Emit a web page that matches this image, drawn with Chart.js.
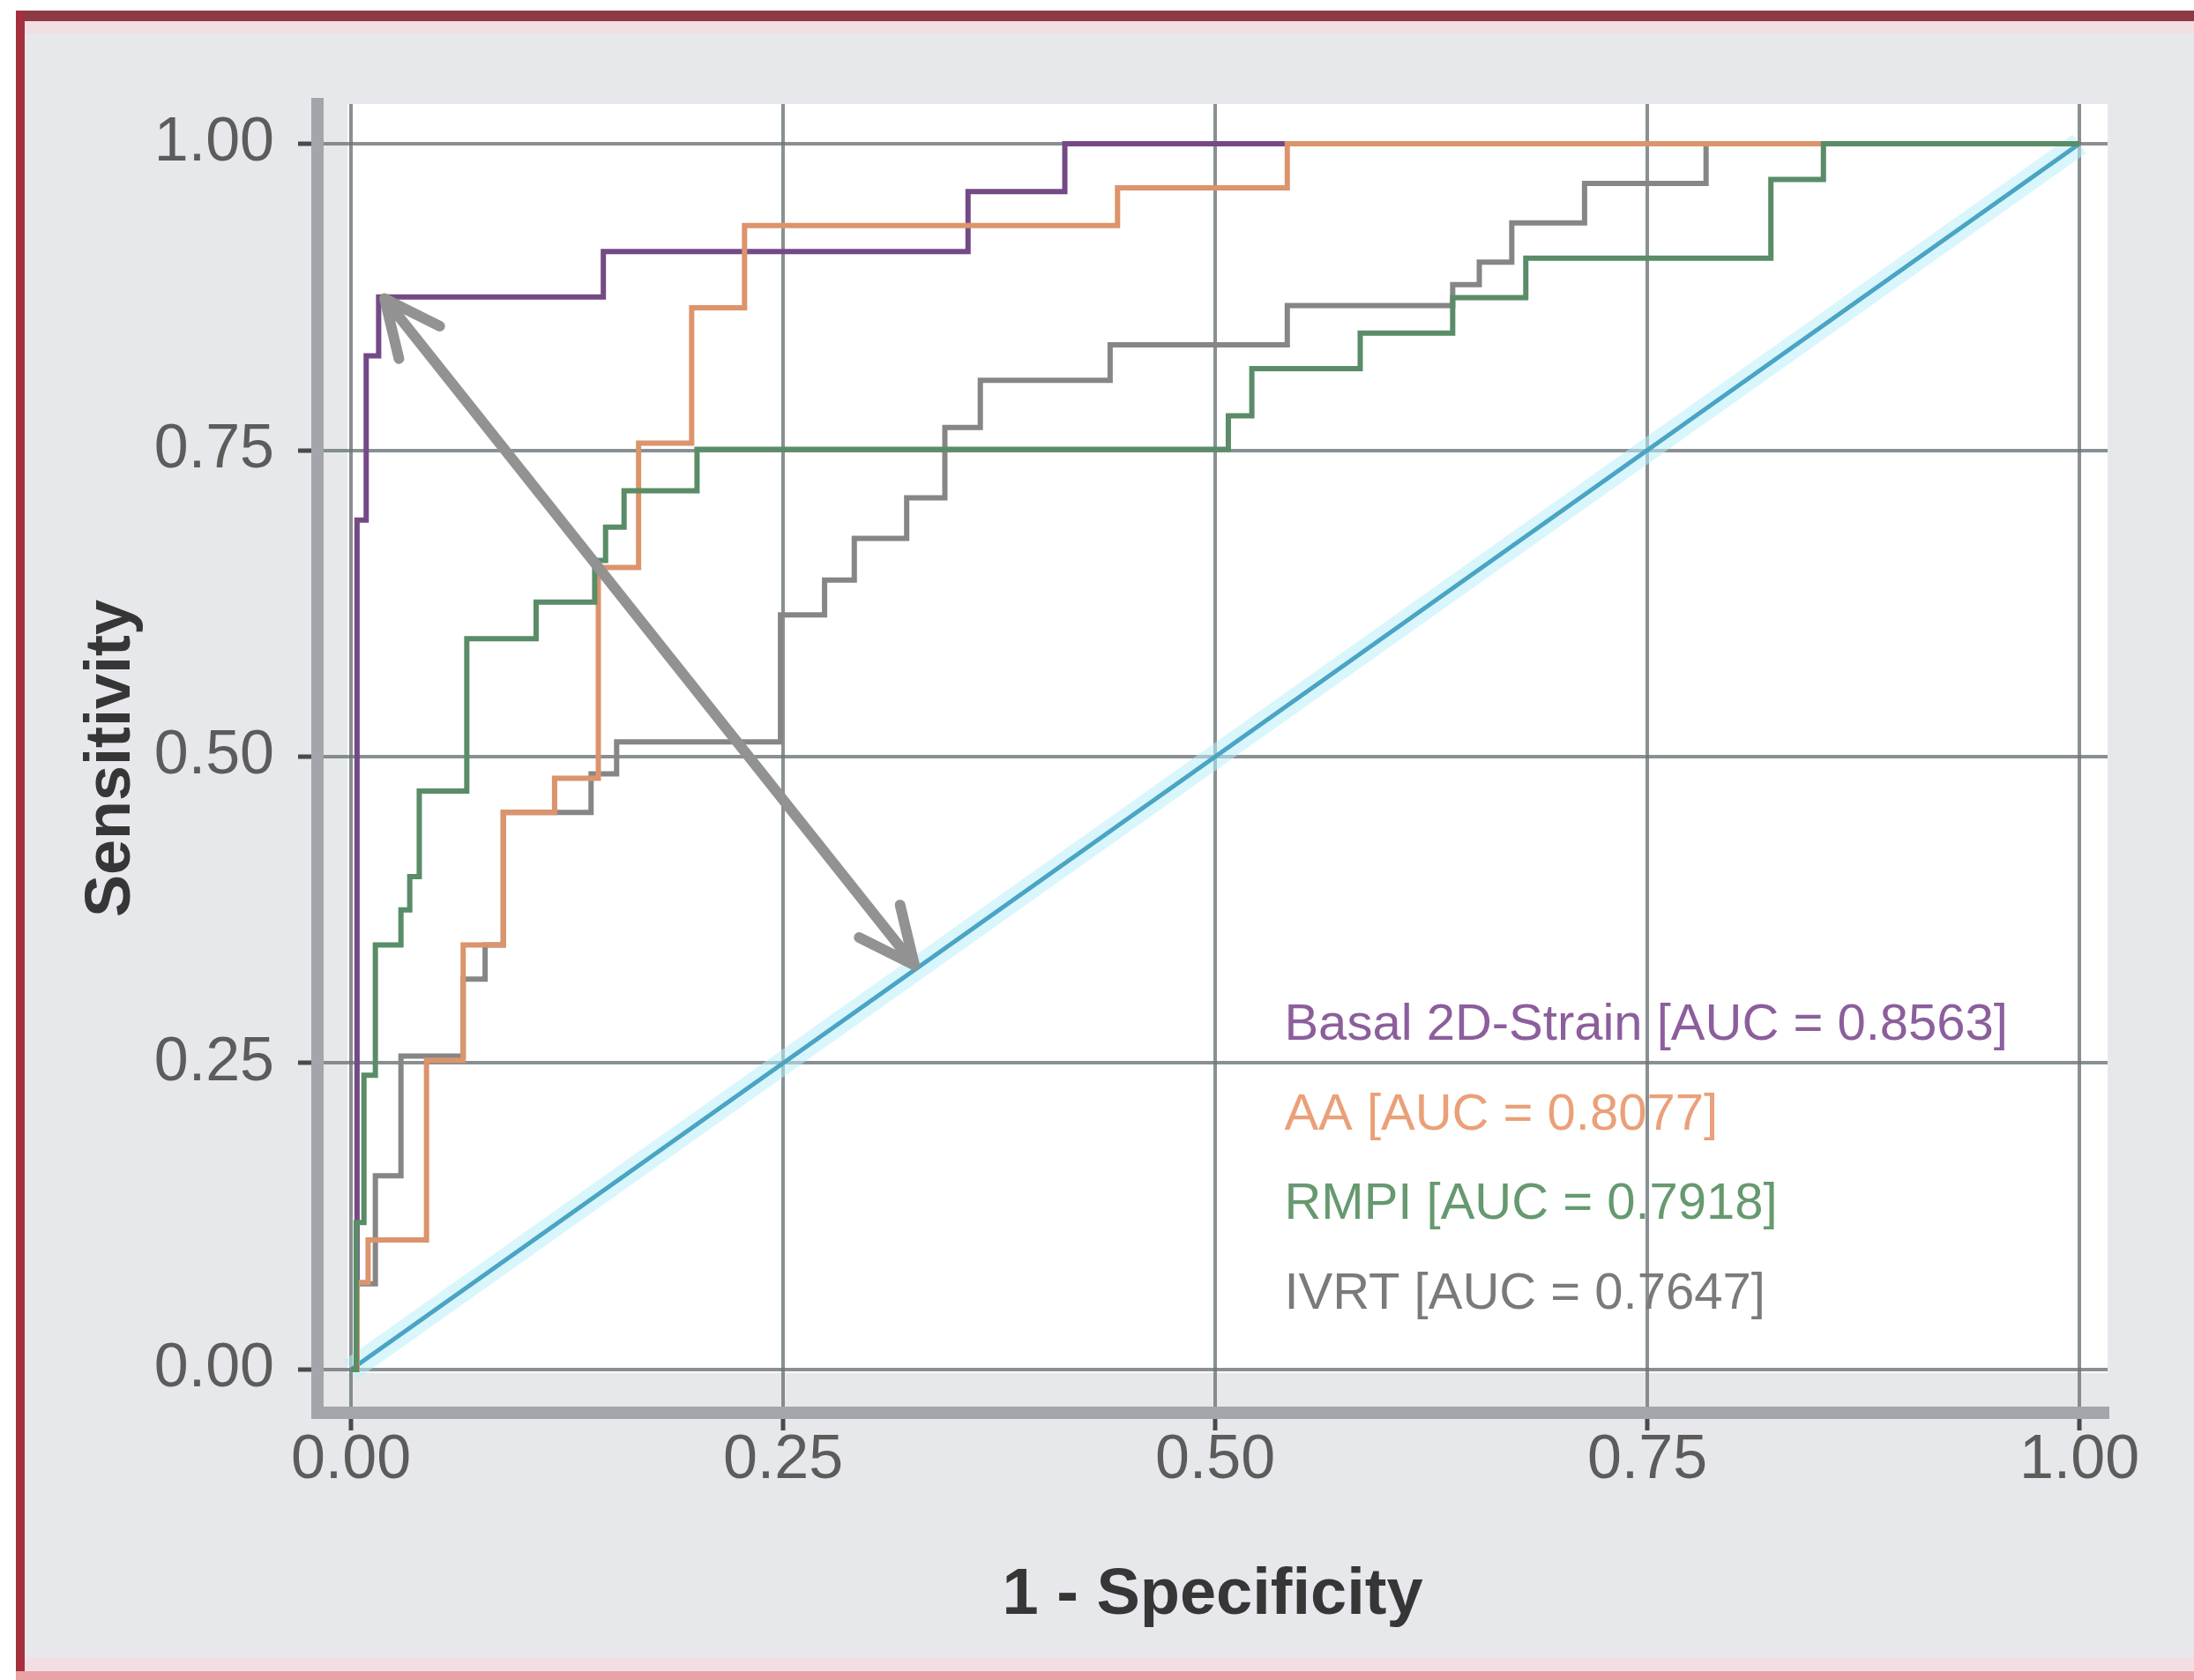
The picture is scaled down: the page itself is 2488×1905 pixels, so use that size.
<!DOCTYPE html>
<html>
<head>
<meta charset="utf-8">
<title>ROC curves</title>
<script src="https://cdn.jsdelivr.net/npm/chart.js@4.4.1/dist/chart.umd.min.js"></script>
<style>
  html, body { margin: 0; padding: 0; background: #ffffff; }
  #rocChart { display: block; }
</style>
</head>
<body>
<canvas id="rocChart" width="2488" height="1905"></canvas>
<script>
// Axis ticks (both axes)
const axisTicks = [0, 0.25, 0.5, 0.75, 1];

// Legend labels, in the order shown in the picture
const seriesLabels = [
    "Basal 2D-Strain [AUC = 0.8563]",
    "AA [AUC = 0.8077]",
    "RMPI [AUC = 0.7918]",
    "IVRT [AUC = 0.7647]"
];

// ROC curves: each point is the top of a vertical step (1 - specificity, sensitivity)
const basalFpr = [0, 0.0035, 0.0088, 0.016, 0.146, 0.357, 0.413, 1];
const basalTpr = [0, 0.693, 0.827, 0.875, 0.912, 0.961, 1, 1];

const aaFpr = [0, 0.0035, 0.0099, 0.0437, 0.0649, 0.0881, 0.1178, 0.1431, 0.1664, 0.1971, 0.2277, 0.4435, 0.5417, 1];
const aaTpr = [0, 0.071, 0.1058, 0.2523, 0.3464, 0.4545, 0.4824, 0.6544, 0.7558, 0.8662, 0.9333, 0.964, 1, 1];

const rmpiFpr = [0, 0.003, 0.0075, 0.0141, 0.0289, 0.034, 0.0395, 0.067, 0.1071, 0.141, 0.1473, 0.158, 0.2002, 0.5076, 0.5212, 0.5839, 0.6374, 0.6797, 0.8215, 0.8519, 1];
const rmpiTpr = [0, 0.12, 0.24, 0.3464, 0.375, 0.4022, 0.472, 0.5963, 0.6261, 0.66, 0.6872, 0.717, 0.7508, 0.7781, 0.8166, 0.8455, 0.8745, 0.9066, 0.9708, 1, 1];

const ivrtFpr = [0, 0.0035, 0.0141, 0.0289, 0.0649, 0.0776, 0.0881, 0.1389, 0.1537, 0.2485, 0.274, 0.2912, 0.3215, 0.3436, 0.3641, 0.4392, 0.5417, 0.6374, 0.6528, 0.6716, 0.7137, 0.784, 1];
const ivrtTpr = [0, 0.07, 0.158, 0.2558, 0.3185, 0.3464, 0.4545, 0.4859, 0.5121, 0.6156, 0.644, 0.678, 0.7111, 0.7685, 0.807, 0.836, 0.868, 0.885, 0.9034, 0.9355, 0.9676, 1, 1];

// Chance line
const chanceFpr = [0, 1];
const chanceTpr = [0, 1];

// Grey double arrow drawn over the plot (data units)
const arrowFrom = [0.0194, 0.8737];
const arrowTo = [0.326, 0.330];

const lineColors = ["#744a86", "#dc946c", "#5a8c68", "#868686"];
const legendColors = ["#8c5e9c", "#eaa078", "#66996f", "#7a7a7a"];

const FONT = '"Liberation Sans", Arial, sans-serif';

function toPoints(xs, ys) {
    return xs.map((v, i) => ({ x: v, y: ys[i] }));
}

// Frame, grey page and white panel
const backdrop = {
    id: "backdrop",
    beforeDraw(chart) {
        const { ctx, chartArea: a, scales } = chart;
        const w = chart.width, h = chart.height;
        ctx.save();
        ctx.fillStyle = "#ffffff";
        ctx.fillRect(0, 0, w, h);
        ctx.fillStyle = "#e7e8eb";
        ctx.fillRect(18, 12, w - 18, h - 12);
        // soft pink glow just inside the frame
        ctx.fillStyle = "#f3dfe3";
        ctx.fillRect(28, 24, w - 28, 14);
        ctx.fillRect(28, h - 26, w - 28, 16);
        // frame
        ctx.fillStyle = "#8d3a44";
        ctx.fillRect(18, 12, w - 18, 12);
        ctx.fillStyle = "#a3303c";
        ctx.fillRect(18, 12, 10, h - 12);
        ctx.fillStyle = "#e9a2a6";
        ctx.fillRect(18, h - 10, w - 18, 10);
        // panel
        ctx.fillStyle = "#ffffff";
        ctx.fillRect(a.left, a.top, a.right - a.left, a.bottom - a.top);
        const y0 = scales.y.getPixelForValue(0);
        const x0 = scales.x.getPixelForValue(0);
        ctx.fillStyle = "#e6e8ea";
        ctx.fillRect(a.left, y0 + 4, a.right - a.left, a.bottom - y0 - 4);
        ctx.fillRect(a.left, a.top, x0 - 4 - a.left, a.bottom - a.top);
        ctx.restore();
    }
};

// Arrow and in-plot legend
const overlay = {
    id: "overlay",
    afterDatasetsDraw(chart) {
        const { ctx, scales: { x, y } } = chart;
        const x1 = x.getPixelForValue(arrowFrom[0]), y1 = y.getPixelForValue(arrowFrom[1]);
        const x2 = x.getPixelForValue(arrowTo[0]), y2 = y.getPixelForValue(arrowTo[1]);
        const ang = Math.atan2(y2 - y1, x2 - x1);
        const head = 70, spread = 25 * Math.PI / 180;

        ctx.save();
        ctx.strokeStyle = "#929292";
        ctx.lineWidth = 12;
        ctx.lineCap = "round";
        ctx.lineJoin = "round";
        ctx.beginPath();
        ctx.moveTo(x1, y1);
        ctx.lineTo(x2, y2);
        // head at the start
        ctx.moveTo(x1 + head * Math.cos(ang - spread), y1 + head * Math.sin(ang - spread));
        ctx.lineTo(x1, y1);
        ctx.lineTo(x1 + head * Math.cos(ang + spread), y1 + head * Math.sin(ang + spread));
        // head at the end
        ctx.moveTo(x2 - head * Math.cos(ang - spread), y2 - head * Math.sin(ang - spread));
        ctx.lineTo(x2, y2);
        ctx.lineTo(x2 - head * Math.cos(ang + spread), y2 - head * Math.sin(ang + spread));
        ctx.stroke();

        // legend text
        ctx.font = "58px " + FONT;
        ctx.textAlign = "left";
        ctx.textBaseline = "middle";
        const lx = x.getPixelForValue(0.54);
        seriesLabels.forEach((label, i) => {
            ctx.fillStyle = legendColors[i];
            ctx.fillText(label, lx, y.getPixelForValue(0.2806 - i * 0.0731));
        });
        ctx.restore();
    }
};

function rocDataset(label, xs, ys, color, order) {
    return {
        label: label,
        data: toPoints(xs, ys),
        borderColor: color,
        borderWidth: 6,
        pointRadius: 0,
        stepped: "before",
        fill: false,
        order: order
    };
}

function axisOptions(min, max, title) {
    return {
        type: "linear",
        min: min,
        max: max,
        afterBuildTicks: (scale) => { scale.ticks = axisTicks.map(v => ({ value: v })); },
        grid: {
            color: "rgba(108,116,120,0.8)",
            lineWidth: 4,
            tickColor: "#4a4a4a",
            tickWidth: 5
        },
        border: { display: true, color: "#a2a5a9", width: 14 },
        ticks: {
            color: "#5c5c5c",
            font: { family: FONT, size: 70, lineHeight: 1 },
            callback: (v) => Number(v).toFixed(2)
        },
        title: {
            display: true,
            text: title,
            color: "#363636",
            font: { family: FONT, size: 74, weight: "bold" }
        }
    };
}

const xOpts = axisOptions(-0.0194, 1.0163, "1 - Specificity");
xOpts.grid.tickLength = 20;
xOpts.ticks.padding = 0;
xOpts.ticks.maxRotation = 0;
xOpts.title.padding = { top: 0, bottom: 11 };
xOpts.afterFit = (scale) => { scale.height = 263; };

const yOpts = axisOptions(-0.0353, 1.0324, "Sensitivity");
yOpts.grid.tickLength = 22;
yOpts.ticks.padding = 27;
yOpts.title.font.size = 72;
yOpts.title.padding = { top: 44, bottom: 0 };
yOpts.afterFit = (scale) => { scale.width = 320; };

window.rocChart = new Chart(document.getElementById("rocChart"), {
    type: "line",
    data: {
        datasets: [
            {
                label: "chance glow",
                data: toPoints(chanceFpr, chanceTpr),
                borderColor: "rgba(185,238,250,0.55)",
                borderWidth: 26,
                pointRadius: 0,
                order: 11
            },
            {
                label: "chance",
                data: toPoints(chanceFpr, chanceTpr),
                borderColor: "#4aa4c4",
                borderWidth: 5,
                pointRadius: 0,
                order: 10
            },
            rocDataset(seriesLabels[0], basalFpr, basalTpr, lineColors[0], 5),
            rocDataset(seriesLabels[1], aaFpr, aaTpr, lineColors[1], 3),
            rocDataset(seriesLabels[2], rmpiFpr, rmpiTpr, lineColors[2], 2),
            rocDataset(seriesLabels[3], ivrtFpr, ivrtTpr, lineColors[3], 4)
        ]
    },
    options: {
        responsive: false,
        animation: false,
        devicePixelRatio: 1,
        layout: { padding: { left: 40, top: 118, right: 98, bottom: 40 } },
        plugins: {
            legend: { display: false },
            tooltip: { enabled: false }
        },
        scales: { x: xOpts, y: yOpts }
    },
    plugins: [backdrop, overlay]
});
</script>
</body>
</html>
